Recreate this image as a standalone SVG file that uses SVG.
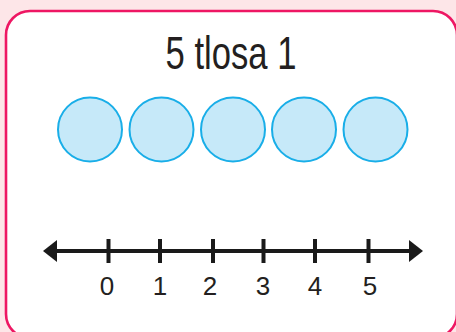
<svg xmlns="http://www.w3.org/2000/svg" width="456" height="332" viewBox="0 0 456 332">
<style>
.dot{fill:#c6e9f9;stroke:#19aee8;stroke-width:2}
.tick{stroke:#1a1a1a;stroke-width:4}
.lbl{font-family:"Liberation Sans",Arial,sans-serif;font-size:26px;fill:#231f20;text-anchor:middle}
.ttl{font-family:"Liberation Sans",Arial,sans-serif;font-size:46px;fill:#231f20;text-anchor:middle}
</style>
<rect x="0" y="0" width="456" height="332" fill="#fde6e8"/>
<g id="card">
<rect x="6" y="11" width="451" height="327" rx="24" fill="#ffffff" stroke="#ee1763" stroke-width="2.6"/>
</g>
<g id="title"><text class="ttl" x="231" y="69" textLength="131" lengthAdjust="spacingAndGlyphs">5 tlosa 1</text></g>
<g id="dots">
<circle id="dot1" class="dot" cx="90" cy="129.5" r="32"/>
<circle id="dot2" class="dot" cx="161.5" cy="129.5" r="32"/>
<circle id="dot3" class="dot" cx="233" cy="129.5" r="32"/>
<circle id="dot4" class="dot" cx="304" cy="129.5" r="32"/>
<circle id="dot5" class="dot" cx="375.5" cy="129.5" r="32"/>
</g>
<g id="numberline">
<line x1="52" y1="251" x2="414" y2="251" stroke="#1a1a1a" stroke-width="4"/>
<polygon points="43,251 57,240 57,262" fill="#1a1a1a"/>
<polygon points="423,251 409,240 409,262" fill="#1a1a1a"/>
<line class="tick" x1="108.5" y1="239" x2="108.5" y2="263"/>
<line class="tick" x1="160" y1="239" x2="160" y2="263"/>
<line class="tick" x1="213" y1="239" x2="213" y2="263"/>
<line class="tick" x1="263.5" y1="239" x2="263.5" y2="263"/>
<line class="tick" x1="315" y1="239" x2="315" y2="263"/>
<line class="tick" x1="368.5" y1="239" x2="368.5" y2="263"/>
</g>
<g id="labels">
<text class="lbl" x="107" y="295">0</text>
<text class="lbl" x="160" y="295">1</text>
<text class="lbl" x="210" y="295">2</text>
<text class="lbl" x="263" y="295">3</text>
<text class="lbl" x="315" y="295">4</text>
<text class="lbl" x="370" y="295">5</text>
</g>
</svg>
